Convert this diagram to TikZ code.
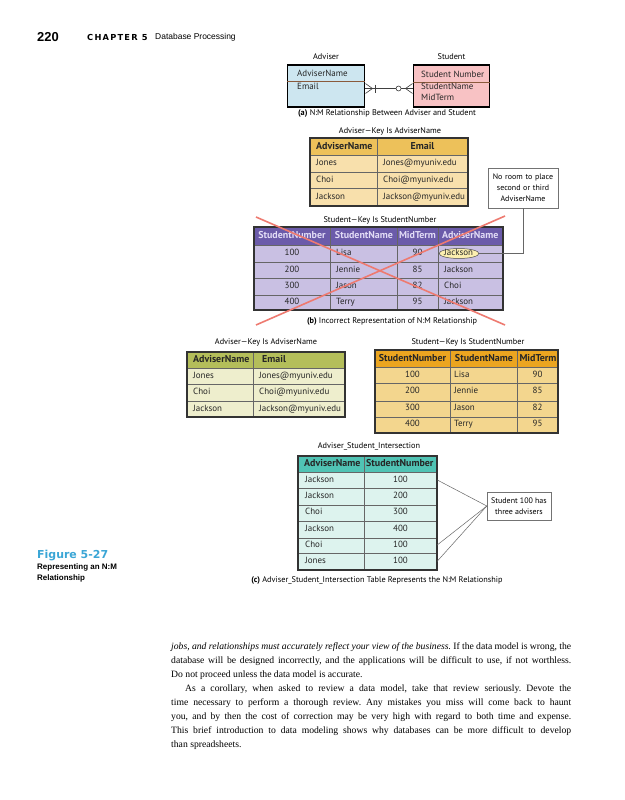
\documentclass[tikz,border=0pt]{standalone}
\usepackage{fontspec}
\setmainfont{Liberation Serif}
\newfontfamily\figfont[Ligatures=TeX]{PT Sans}
\newfontfamily\headfont{Liberation Sans}
\newfontfamily\chapfont[LetterSpace=15]{DejaVu Sans}
\newfontfamily\widefont{DejaVu Sans}
\usepackage{xcolor}
\usetikzlibrary{positioning, calc, shapes.geometric}

\definecolor{advblue}{HTML}{CDE6F0}
\definecolor{stupink}{HTML}{F8C2C4}
\definecolor{goldhdr}{HTML}{EDC15A}
\definecolor{tanrow}{HTML}{F8E0AC}
\definecolor{purphdr}{HTML}{6B5BAA}
\definecolor{purptext}{HTML}{E2DCF6}
\definecolor{lavrow}{HTML}{C9C0E3}
\definecolor{xred}{HTML}{EE7A70}
\definecolor{olivehdr}{HTML}{B4BE5A}
\definecolor{oliverow}{HTML}{EEEECD}
\definecolor{orangehdr}{HTML}{EBA520}
\definecolor{orangerow}{HTML}{F3D68E}
\definecolor{tealhdr}{HTML}{50C3B4}
\definecolor{tealrow}{HTML}{DDF3EE}
\definecolor{ellyellow}{HTML}{FCEFB0}
\definecolor{figblue}{HTML}{3BA6D6}
\definecolor{divbrown}{HTML}{8A5A3C}

\tikzset{
  cell/.style={font=\figfont\fontsize{9}{10.8}\selectfont, inner sep=0pt, text height=6.5pt, text depth=1.8pt, text=black!85},
  hcell/.style={font=\figfont\bfseries\fontsize{10}{11}\selectfont, inner sep=0pt, text height=7.2pt, text depth=2pt, text=black!85},
  title/.style={font=\figfont\fontsize{8.3}{10}\selectfont, inner sep=0pt, text height=6pt, text depth=1.7pt},
  entity/.style={draw=black, line width=1.2pt, inner sep=0pt},
  divline/.style={draw=divbrown, line width=0.8pt},
  relline/.style={draw=black!75, line width=0.6pt},
  outer/.style={draw=black!80, line width=1.4pt},
  gridline/.style={draw=black!60, line width=0.7pt},
  xline/.style={draw=xred, line width=1.6pt},
  callout/.style={draw=black!55, fill=white, line width=0.6pt, align=center, inner sep=2pt, font=\figfont\fontsize{8}{11}\selectfont},
  leader/.style={draw=black!60, line width=0.5pt},
}

\begin{document}
\begin{tikzpicture}[x=1bp, y=-1bp]
\useasboundingbox (0,0) rectangle (625,800);
\fill[white] (0,0) rectangle (625,800);

% page header
\node[anchor=west, inner sep=0pt, font=\headfont\bfseries\fontsize{13}{13}\selectfont] (pageno) at (37,37) {220};
\node[anchor=west, inner sep=0pt, font=\chapfont\bfseries\fontsize{8.3}{8}\selectfont] (chap) at (87,37.5) {CHAPTER 5};
\node[anchor=west, inner sep=0pt, font=\headfont\fontsize{8.5}{9}\selectfont] (chaptitle) at (155,37.5) {Database Processing};

% (a) the two entities
\node[entity, fill=advblue, minimum width=78, minimum height=42] (adv) at (326,86) {};
\node[entity, fill=stupink, minimum width=77, minimum height=42] (stu) at (451.5,86) {};
\draw[divline] (287,81) -- (365,81);
\draw[divline] (413,82) -- (490,82);
\node[title, above=3pt of adv] (advlbl) {Adviser};
\node[title, above=3pt of stu] (stulbl) {Student};
\node[cell, anchor=west] (adv-a1) at (297,74.5) {AdviserName};
\node[cell, anchor=west] (adv-a2) at (297,87) {Email};
\node[cell, anchor=west] (stu-a1) at (421,75.5) {Student Number};
\node[cell, anchor=west] (stu-a2) at (421,87) {StudentName};
\node[cell, anchor=west] (stu-a3) at (421,98) {MidTerm};

% N:M line with crow's feet
\coordinate (ae) at ($(adv.east)+(0,2.5)$);
\coordinate (se) at ($(stu.west)+(0,2.5)$);
\draw[relline] (ae) -- ($(se)+(-16.5,0)$);
\draw[relline] ($(se)+(-14,0)$) circle (2.5);
\draw[relline] ($(se)+(-11.5,0)$) -- (se);
\draw[relline] ($(ae)+(0,-5)$) -- ($(ae)+(7,0)$) -- ($(ae)+(0,5)$);
\draw[relline] ($(ae)+(10,-4)$) -- ($(ae)+(10,4)$);
\draw[relline] ($(se)+(0,-5)$) -- ($(se)+(-7,0)$) -- ($(se)+(0,5)$);
\node[title] (capa) at (387,113) {\textbf{(a)} N:M Relationship Between Adviser and Student};

% (b) Adviser table
\node[title] (ba-lbl) at (390,131) {Adviser—Key Is AdviserName};
\fill[goldhdr] (310,138) rectangle (468,155);
\fill[tanrow] (310,155) rectangle (468,206);
\foreach \y in {155,172,188}
  \draw[gridline] (310,\y) -- (468,\y);
\draw[gridline] (377,138) -- (377,206);
\draw[outer] (310,138) rectangle (468,206);
\node[hcell, anchor=west] (ba-h1) at (316,146.5) {AdviserName};
\node[hcell] (ba-h2) at (422.5,146.5) {Email};
\foreach \n/\y [count=\i] in {Jones/163.5, Choi/180, Jackson/197}{
  \node[cell, anchor=west] (ba-n\i) at (316,\y) {\n};
  \node[cell, anchor=west] (ba-e\i) at (383,\y) {\n@myuniv.edu};
}

% (b) Student table with the adviser packed in
\node[title] (bs-lbl) at (380,220) {Student—Key Is StudentNumber};
\fill[purphdr] (254,227) rectangle (503,245);
\fill[lavrow] (254,245) rectangle (503,310);
\foreach \y in {245,262,278,295}
  \draw[gridline] (254,\y) -- (503,\y);
\foreach \x in {330,397,438}
  \draw[gridline] (\x,227) -- (\x,310);
\draw[outer] (254,227) rectangle (503,310);
\node[hcell, text=purptext] (bs-h1) at (292,236) {StudentNumber};
\node[hcell, text=purptext] (bs-h2) at (364,236) {StudentName};
\node[hcell, text=purptext] (bs-h3) at (417.5,236) {MidTerm};
\node[hcell, text=purptext, anchor=west] (bs-h4) at (442,236) {AdviserName};
\node[ellipse, draw=black!70, fill=ellyellow, line width=0.5pt, minimum width=40, minimum height=10, inner sep=0pt] (ell) at (459,253.5) {};
\foreach \snum/\sname/\mterm/\sadv [count=\i] in {100/Lisa/90/Jackson, 200/Jennie/85/Jackson, 300/Jason/82/Choi, 400/Terry/95/Jackson}{
  \pgfmathsetmacro{\y}{237.25+16.25*\i}
  \node[cell] (bs-num\i) at (292,\y) {\snum};
  \node[cell, anchor=west] (bs-name\i) at (336,\y) {\sname};
  \node[cell] (bs-mid\i) at (417.5,\y) {\mterm};
  \node[cell, anchor=west] (bs-adv\i) at (444,\y) {\sadv};
}
\draw[xline] (256,217) -- (505,325);
\draw[xline] (505,216) -- (256,325);
\node[callout, text width=66, minimum height=40] (callb) at (523,188) {No room to place\\second or third\\AdviserName};
\draw[leader] (callb.south) |- (ell.east);
\node[title] (capb) at (392,321) {\textbf{(b)} Incorrect Representation of N:M Relationship};

% (c) Adviser table
\node[title] (ca-lbl) at (266,342) {Adviser—Key Is AdviserName};
\fill[olivehdr] (187,352) rectangle (345,368);
\fill[oliverow] (187,368) rectangle (345,417);
\foreach \y in {368,384,401}
  \draw[gridline] (187,\y) -- (345,\y);
\draw[gridline] (253,352) -- (253,417);
\draw[outer] (187,352) rectangle (345,417);
\node[hcell, anchor=west] (ca-h1) at (193,360) {AdviserName};
\node[hcell, anchor=west] (ca-h2) at (262,360) {Email};
\foreach \n [count=\i] in {Jones, Choi, Jackson}{
  \pgfmathsetmacro{\y}{359.5+16.5*\i}
  \node[cell, anchor=west] (ca-n\i) at (193,\y) {\n};
  \node[cell, anchor=west] (ca-e\i) at (259,\y) {\n@myuniv.edu};
}

% (c) Student table
\node[title] (cs-lbl) at (468,342) {Student—Key Is StudentNumber};
\fill[orangehdr] (375,350) rectangle (558,367);
\fill[orangerow] (375,367) rectangle (558,433);
\foreach \y in {367,383,401,417}
  \draw[gridline] (375,\y) -- (558,\y);
\foreach \x in {450,517}
  \draw[gridline] (\x,350) -- (\x,433);
\draw[outer] (375,350) rectangle (558,433);
\node[hcell] (cs-h1) at (412.5,358.5) {StudentNumber};
\node[hcell] (cs-h2) at (484,358.5) {StudentName};
\node[hcell] (cs-h3) at (538,358.5) {MidTerm};
\foreach \snum/\sname/\mterm [count=\i] in {100/Lisa/90, 200/Jennie/85, 300/Jason/82, 400/Terry/95}{
  \pgfmathsetmacro{\y}{358.5+16.5*\i}
  \node[cell] (cs-num\i) at (412.5,\y) {\snum};
  \node[cell, anchor=west] (cs-name\i) at (454,\y) {\sname};
  \node[cell] (cs-mid\i) at (537.5,\y) {\mterm};
}

% (c) intersection table
\node[title] (ci-lbl) at (369,446) {Adviser\_Student\_Intersection};
\fill[tealhdr] (298,456) rectangle (437,472);
\fill[tealrow] (298,472) rectangle (437,570);
\foreach \y in {472,488,505,521,538,553}
  \draw[gridline] (298,\y) -- (437,\y);
\draw[gridline] (364,456) -- (364,570);
\draw[outer] (298,456) rectangle (437,570);
\node[hcell, anchor=west] (ci-h1) at (304,464) {AdviserName};
\node[hcell, anchor=west] (ci-h2) at (366,464) {StudentNumber};
\foreach \sadv/\snum [count=\i] in {Jackson/100, Jackson/200, Choi/300, Jackson/400, Choi/100, Jones/100}{
  \pgfmathsetmacro{\y}{463.5+16.33*\i}
  \node[cell, anchor=west] (ci-adv\i) at (305,\y) {\sadv};
  \node[cell] (ci-num\i) at (400.5,\y) {\snum};
  \coordinate (ci-r\i) at (437,\y);
}
\node[callout, minimum width=64, minimum height=28] (callc) at (519,506) {Student 100 has\\three advisers};
\foreach \r in {1,5,6}
  \draw[leader] (ci-r\r) -- (callc.west);
\node[title] (capc) at (377,580) {\textbf{(c)} Adviser\_Student\_Intersection Table Represents the N:M Relationship};

% figure label
\node[anchor=west, inner sep=0pt, text=figblue, font=\widefont\bfseries\fontsize{11}{11}\selectfont] (fignum) at (37,556) {Figure 5-27};
\node[anchor=north west, inner sep=0pt, align=left, font=\headfont\bfseries\fontsize{8}{11}\selectfont] (figcap) at (37,564) {Representing an N:M\\Relationship};

% running text
\node[anchor=north west, inner sep=0pt, text width=400bp, align=justify, font=\fontsize{9.7}{14.1}\selectfont] (body) at (171,642) {\frenchspacing\setlength{\parindent}{0pt}\textit{jobs, and relationships must accurately reflect your view of the business.} If the data model is wrong, the\linebreak database will be designed incorrectly, and the applications will be difficult to use, if not worthless.\linebreak Do not proceed unless the data model is accurate.\par
\hspace*{14pt}As a corollary, when asked to review a data model, take that review seriously. Devote the\linebreak time necessary to perform a thorough review. Any mistakes you miss will come back to haunt\linebreak you, and by then the cost of correction may be very high with regard to both time and expense.\linebreak This brief introduction to data modeling shows why databases can be more difficult to develop\linebreak than spreadsheets.};
\end{tikzpicture}
\end{document}
